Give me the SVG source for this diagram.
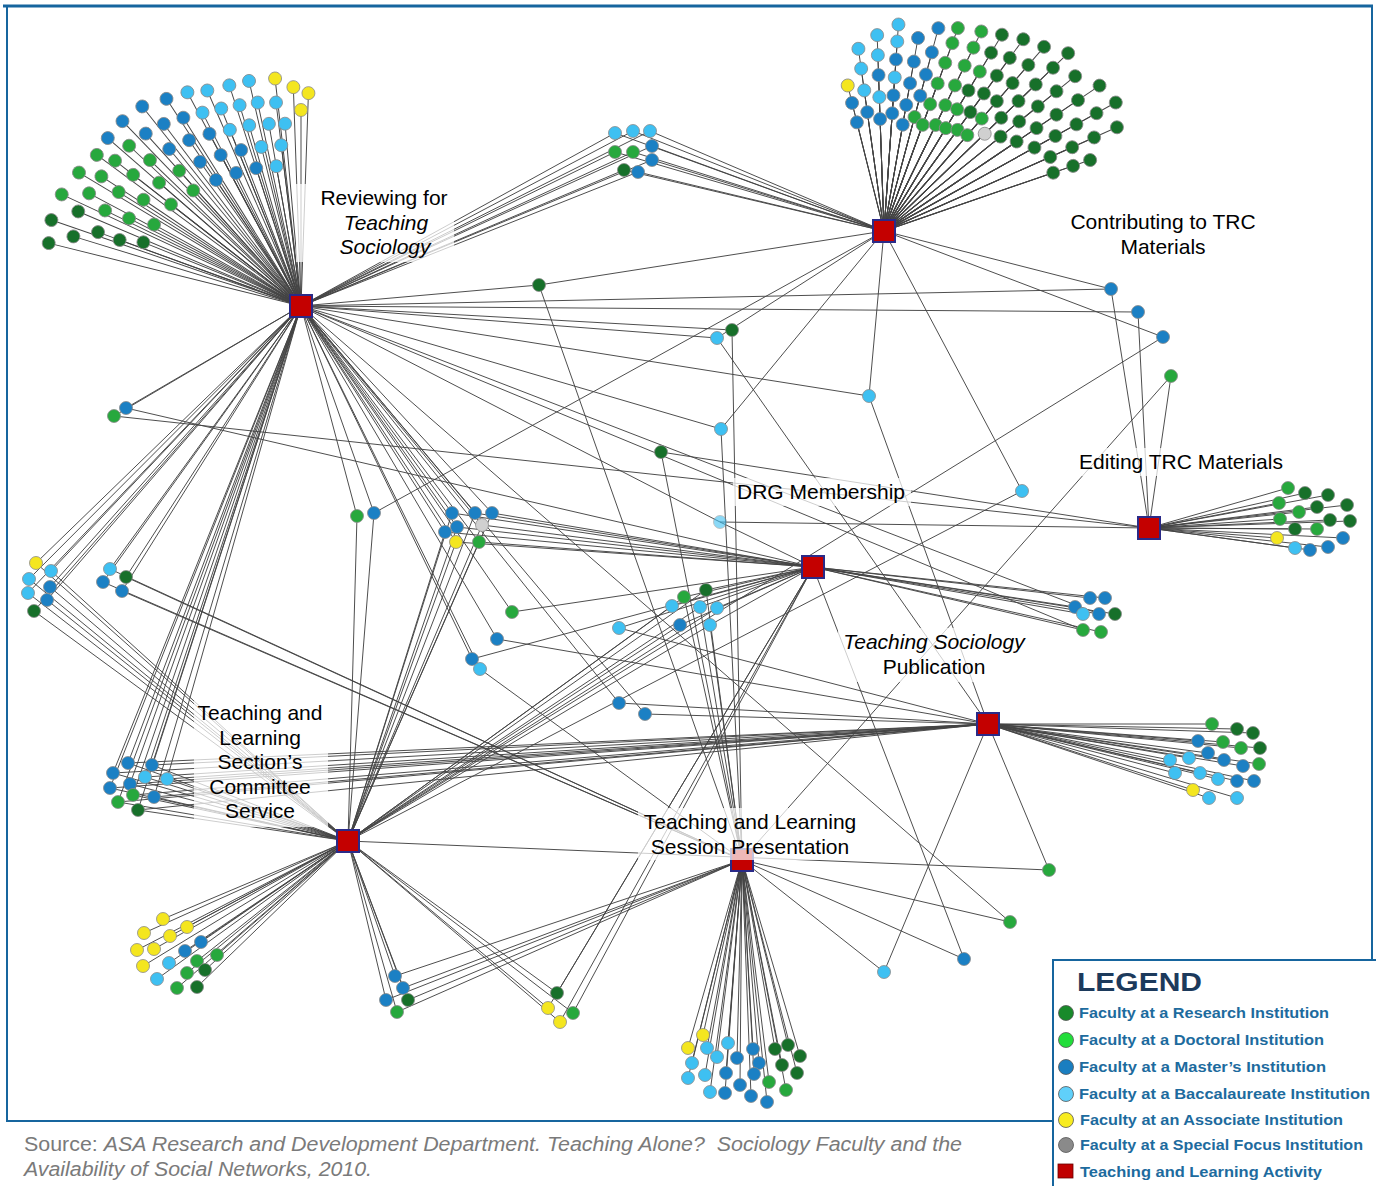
<svg xmlns="http://www.w3.org/2000/svg" width="1376" height="1186" viewBox="0 0 1376 1186">
<style>
.n{stroke:#8a8a8a;stroke-width:0.8}
.dg{fill:#17702a}.g{fill:#27a83d}.b{fill:#1b80c4}.lb{fill:#3ec0f2}.y{fill:#f4e61f}.s{fill:#d0d0d0}
.hub{fill:#c40000;stroke:#2a2a88;stroke-width:2}
.lbl{font-family:"Liberation Sans",Arial,sans-serif;font-size:21px;fill:#000;text-anchor:middle}
.it{font-style:italic}
.lbg{fill:#fff;opacity:0.72}
.lg{font-family:"Liberation Sans",Arial,sans-serif;font-size:15px;font-weight:bold;fill:#1d6b9e}
.lc{stroke:#555;stroke-width:0.8}
</style>
<rect width="1376" height="1186" fill="#fff"/>
<g id="frame" fill="none" stroke="#16659e">
<rect x="7" y="6" width="1365" height="1115" stroke-width="2"/>
<line x1="3" y1="6" x2="1373" y2="6" stroke-width="3"/>
</g>
<g id="connectors" stroke="#444" stroke-width="0.95" fill="none">
<g transform="translate(301,306)">
<line x2="213" transform="rotate(-88)"/><line x2="219" transform="rotate(-92)"/><line x2="229" transform="rotate(-96.5)"/><line x2="231" transform="rotate(-103)"/><line x2="232" transform="rotate(-108)"/><line x2="235" transform="rotate(-113.5)"/><line x2="242" transform="rotate(-118)"/><line x2="247" transform="rotate(-123)"/><line x2="255" transform="rotate(-128.5)"/><line x2="257" transform="rotate(-134)"/><line x2="256" transform="rotate(-139)"/><line x2="254" transform="rotate(-143.5)"/><line x2="259" transform="rotate(-149)"/><line x2="264" transform="rotate(-155)"/><line x2="264" transform="rotate(-161)"/><line x2="260" transform="rotate(-166)"/>
<line x2="196" transform="rotate(-90)"/><line x2="205" transform="rotate(-97)"/><line x2="208" transform="rotate(-102)"/><line x2="210" transform="rotate(-107)"/><line x2="213" transform="rotate(-112)"/><line x2="217" transform="rotate(-117)"/><line x2="222" transform="rotate(-122)"/><line x2="228" transform="rotate(-127)"/><line x2="232" transform="rotate(-132)"/><line x2="235" transform="rotate(-137)"/><line x2="236" transform="rotate(-142)"/><line x2="238" transform="rotate(-147)"/><line x2="240" transform="rotate(-152)"/><line x2="242" transform="rotate(-157)"/><line x2="238" transform="rotate(-163)"/>
<line x2="183" transform="rotate(-95)"/><line x2="185" transform="rotate(-100)"/><line x2="188" transform="rotate(-106)"/><line x2="190" transform="rotate(-112)"/><line x2="195" transform="rotate(-118)"/><line x2="200" transform="rotate(-124)"/><line x2="205" transform="rotate(-130)"/><line x2="210" transform="rotate(-136)"/><line x2="213" transform="rotate(-142)"/><line x2="215" transform="rotate(-148)"/><line x2="218" transform="rotate(-154)"/><line x2="216" transform="rotate(-160)"/>
<line x2="162" transform="rotate(-97)"/><line x2="164" transform="rotate(-104)"/><line x2="167" transform="rotate(-111)"/><line x2="171" transform="rotate(-118)"/><line x2="176" transform="rotate(-125)"/><line x2="182" transform="rotate(-132)"/><line x2="188" transform="rotate(-139)"/><line x2="190" transform="rotate(-146)"/><line x2="193" transform="rotate(-153)"/><line x2="193" transform="rotate(-160)"/>
<line x2="142" transform="rotate(-100)"/><line x2="145" transform="rotate(-108)"/><line x2="148" transform="rotate(-116)"/><line x2="152" transform="rotate(-124)"/><line x2="158" transform="rotate(-133)"/><line x2="165" transform="rotate(-142)"/><line x2="168" transform="rotate(-151)"/><line x2="170" transform="rotate(-158)"/>
</g>
<g transform="translate(884,231)">
<line x2="112" transform="rotate(-104)"/><line x2="132" transform="rotate(-104)"/><line x2="150" transform="rotate(-104)"/>
<line x2="120" transform="rotate(-98)"/><line x2="142" transform="rotate(-98)"/><line x2="164" transform="rotate(-98)"/><line x2="184" transform="rotate(-98)"/>
<line x2="112" transform="rotate(-92)"/><line x2="134" transform="rotate(-92)"/><line x2="156" transform="rotate(-92)"/><line x2="176" transform="rotate(-92)"/><line x2="196" transform="rotate(-92)"/>
<line x2="118" transform="rotate(-86)"/><line x2="136" transform="rotate(-86)"/><line x2="154" transform="rotate(-86)"/><line x2="172" transform="rotate(-86)"/><line x2="190" transform="rotate(-86)"/><line x2="207" transform="rotate(-86)"/>
<line x2="108" transform="rotate(-80)"/><line x2="128" transform="rotate(-80)"/><line x2="150" transform="rotate(-80)"/><line x2="172" transform="rotate(-80)"/><line x2="196" transform="rotate(-80)"/>
<line x2="118" transform="rotate(-75)"/><line x2="140" transform="rotate(-75)"/><line x2="162" transform="rotate(-75)"/><line x2="185" transform="rotate(-75)"/><line x2="210" transform="rotate(-75)"/>
<line x2="113" transform="rotate(-70)"/><line x2="135" transform="rotate(-70)"/><line x2="157" transform="rotate(-70)"/><line x2="179" transform="rotate(-70)"/><line x2="200" transform="rotate(-70)"/><line x2="216" transform="rotate(-70)"/>
<line x2="118" transform="rotate(-64)"/><line x2="140" transform="rotate(-64)"/><line x2="162" transform="rotate(-64)"/><line x2="184" transform="rotate(-64)"/><line x2="204" transform="rotate(-64)"/><line x2="222" transform="rotate(-64)"/>
<line x2="120" transform="rotate(-59)"/><line x2="142" transform="rotate(-59)"/><line x2="164" transform="rotate(-59)"/><line x2="186" transform="rotate(-59)"/><line x2="208" transform="rotate(-59)"/><line x2="229" transform="rotate(-59)"/>
<line x2="125" transform="rotate(-54)"/><line x2="147" transform="rotate(-54)"/><line x2="170" transform="rotate(-54)"/><line x2="192" transform="rotate(-54)"/><line x2="214" transform="rotate(-54)"/><line x2="237" transform="rotate(-54)"/>
<line x2="127" transform="rotate(-49)"/><line x2="149" transform="rotate(-49)"/><line x2="172" transform="rotate(-49)"/><line x2="196" transform="rotate(-49)"/><line x2="220" transform="rotate(-49)"/><line x2="244" transform="rotate(-49)"/>
<line x2="140" transform="rotate(-44)"/><line x2="163" transform="rotate(-44)"/><line x2="187" transform="rotate(-44)"/><line x2="211" transform="rotate(-44)"/><line x2="235" transform="rotate(-44)"/><line x2="256" transform="rotate(-44)"/>
<line x2="150" transform="rotate(-39)"/><line x2="174" transform="rotate(-39)"/><line x2="198" transform="rotate(-39)"/><line x2="222" transform="rotate(-39)"/><line x2="246" transform="rotate(-39)"/>
<line x2="160" transform="rotate(-34)"/><line x2="184" transform="rotate(-34)"/><line x2="208" transform="rotate(-34)"/><line x2="234" transform="rotate(-34)"/><line x2="260" transform="rotate(-34)"/>
<line x2="172" transform="rotate(-29)"/><line x2="196" transform="rotate(-29)"/><line x2="220" transform="rotate(-29)"/><line x2="243" transform="rotate(-29)"/><line x2="265" transform="rotate(-29)"/>
<line x2="182" transform="rotate(-24)"/><line x2="206" transform="rotate(-24)"/><line x2="230" transform="rotate(-24)"/><line x2="255" transform="rotate(-24)"/>
<line x2="179" transform="rotate(-19)"/><line x2="200" transform="rotate(-19)"/><line x2="218" transform="rotate(-19)"/>
</g>
<path d="M1149 528L1288 488M1149 528L1305 493M1149 528L1328 495M1149 528L1279 503M1149 528L1299 512M1149 528L1317 507M1149 528L1347 505M1149 528L1280 519M1149 528L1295 529M1149 528L1317 529M1149 528L1330 520M1149 528L1350 521M1149 528L1277 538M1149 528L1295 548M1149 528L1310 550M1149 528L1328 547M1149 528L1343 538"/>
<path d="M813 567L1075 607M813 567L1090 598M813 567L1105 598M813 567L1083 614M813 567L1099 614M813 567L1115 614M813 567L1083 630M813 567L1101 632"/>
<path d="M988 724L1212 724M988 724L1237 729M988 724L1253 733M988 724L1198 741M988 724L1223 742M988 724L1241 748M988 724L1260 748M988 724L1170 760M988 724L1189 758M988 724L1208 753M988 724L1224 760M988 724L1243 766M988 724L1259 764M988 724L1175 773M988 724L1200 773M988 724L1218 779M988 724L1237 781M988 724L1254 781M988 724L1193 790M988 724L1209 798M988 724L1237 798"/>
<path d="M348 841L163 919M348 841L187 927M348 841L144 933M348 841L170 936M348 841L201 942M348 841L137 950M348 841L154 949M348 841L185 951M348 841L217 955M348 841L197 961M348 841L169 963M348 841L143 966M348 841L205 970M348 841L187 973M348 841L157 979M348 841L177 988M348 841L197 987"/>
<path d="M742 860L703 1035M742 860L688 1048M742 860L707 1048M742 860L728 1043M742 860L717 1057M742 860L692 1063M742 860L737 1058M742 860L753 1049M742 860L759 1063M742 860L775 1049M742 860L788 1045M742 860L800 1056M742 860L782 1065M742 860L797 1073M742 860L688 1078M742 860L705 1075M742 860L726 1073M742 860L754 1074M742 860L769 1082M742 860L740 1085M742 860L710 1092M742 860L725 1093M742 860L751 1096M742 860L786 1090M742 860L767 1102"/>
<path d="M36 563L301 306M51 571L301 306M29 579L301 306M50 587L301 306M28 593L301 306M47 600L301 306M34 611L301 306M36 563L348 841M51 571L348 841M29 579L348 841M50 587L348 841M28 593L348 841M47 600L348 841M34 611L348 841"/>
<path d="M110 569L301 306M126 577L301 306M103 582L301 306M122 591L301 306M110 569L742 860M126 577L742 860M103 582L742 860M122 591L742 860"/>
<path d="M128 763L301 306M152 765L301 306M113 773L301 306M145 777L301 306M167 779L301 306M130 784L301 306M110 788L301 306M133 795L301 306M154 797L301 306M118 802L301 306M138 810L301 306M128 763L988 724M152 765L988 724M113 773L988 724M145 777L988 724M167 779L988 724M130 784L988 724M110 788L988 724M133 795L988 724M154 797L988 724M118 802L988 724M138 810L988 724M128 763L348 841M152 765L348 841M113 773L348 841M145 777L348 841M167 779L348 841M130 784L348 841M110 788L348 841M133 795L348 841M154 797L348 841M118 802L348 841M138 810L348 841"/>
<path d="M452 513L301 306M475 513L301 306M492 513L301 306M457 527L301 306M445 532L301 306M482 525L301 306M456 542L301 306M479 542L301 306M452 513L813 567M475 513L813 567M492 513L813 567M457 527L813 567M445 532L813 567M482 525L813 567M456 542L813 567M479 542L813 567M452 513L348 841M475 513L348 841M492 513L348 841M457 527L348 841M445 532L348 841M482 525L348 841M456 542L348 841M479 542L348 841"/>
<path d="M615 133L301 306M633 131L301 306M650 131L301 306M615 152L301 306M633 152L301 306M652 146L301 306M652 160L301 306M624 170L301 306M638 172L301 306M615 133L884 231M633 131L884 231M650 131L884 231M615 152L884 231M633 152L884 231M652 146L884 231M652 160L884 231M624 170L884 231M638 172L884 231"/>
<path d="M706 590L813 567M684 597L813 567M672 606L813 567M700 607L813 567M717 608L813 567M680 625L813 567M710 625L813 567M706 590L348 841M684 597L348 841M672 606L348 841M700 607L348 841M717 608L348 841M680 625L348 841M710 625L348 841M706 590L742 860M684 597L742 860M700 607L742 860M710 625L742 860"/>
<path d="M395 976L348 841M403 988L348 841M386 1000L348 841M408 1000L348 841M397 1012L348 841M395 976L742 860M403 988L742 860M386 1000L742 860M408 1000L742 860M397 1012L742 860"/>
<path d="M557 993L348 841M548 1008L348 841M573 1013L348 841M560 1022L348 841M557 993L813 567M548 1008L813 567M573 1013L813 567M560 1022L813 567"/>
<path d="M539 285L301 306M539 285L884 231M539 285L742 860M1111 289L301 306M1111 289L884 231M1111 289L1149 528M1138 312L301 306M1138 312L1149 528M1163 337L884 231M1163 337L348 841M1171 376L1149 528M1171 376L742 860M717 338L301 306M717 338L988 724M717 338L884 231M732 330L301 306M732 330L742 860M869 396L301 306M869 396L884 231M869 396L988 724M126 408L301 306M126 408L813 567M114 416L301 306M114 416L1149 528M721 429L884 231M721 429L742 860M721 429L301 306M661 452L1149 528M661 452L742 860M1022 491L884 231M1022 491L348 841M357 516L301 306M357 516L348 841M374 513L301 306M374 513L884 231M374 513L348 841M720 522L813 567M720 522L1149 528M720 522L301 306M512 612L813 567M512 612L301 306M619 628L813 567M619 628L988 724M497 639L301 306M497 639L988 724M472 659L301 306M472 659L813 567M480 669L301 306M480 669L742 860M619 703L988 724M619 703L301 306M645 714L988 724M645 714L301 306M1049 870L348 841M1049 870L988 724M1010 922L742 860M1010 922L301 306M884 972L988 724M884 972L742 860M964 959L813 567M964 959L742 860M1099 614L301 306M1083 630L301 306"/>
</g>
<g id="fan-reviewing" transform="translate(301,306)">
<circle cx="213" r="6.5" class="n y" transform="rotate(-88)"/><circle cx="219" r="6.5" class="n y" transform="rotate(-92)"/><circle cx="229" r="6.5" class="n y" transform="rotate(-96.5)"/><circle cx="231" r="6.5" class="n lb" transform="rotate(-103)"/><circle cx="232" r="6.5" class="n lb" transform="rotate(-108)"/><circle cx="235" r="6.5" class="n lb" transform="rotate(-113.5)"/><circle cx="242" r="6.5" class="n lb" transform="rotate(-118)"/><circle cx="247" r="6.5" class="n b" transform="rotate(-123)"/><circle cx="255" r="6.5" class="n b" transform="rotate(-128.5)"/><circle cx="257" r="6.5" class="n b" transform="rotate(-134)"/><circle cx="256" r="6.5" class="n b" transform="rotate(-139)"/><circle cx="254" r="6.5" class="n g" transform="rotate(-143.5)"/><circle cx="259" r="6.5" class="n g" transform="rotate(-149)"/><circle cx="264" r="6.5" class="n g" transform="rotate(-155)"/><circle cx="264" r="6.5" class="n dg" transform="rotate(-161)"/><circle cx="260" r="6.5" class="n dg" transform="rotate(-166)"/>
<circle cx="196" r="6.5" class="n y" transform="rotate(-90)"/><circle cx="205" r="6.5" class="n lb" transform="rotate(-97)"/><circle cx="208" r="6.5" class="n lb" transform="rotate(-102)"/><circle cx="210" r="6.5" class="n lb" transform="rotate(-107)"/><circle cx="213" r="6.5" class="n lb" transform="rotate(-112)"/><circle cx="217" r="6.5" class="n lb" transform="rotate(-117)"/><circle cx="222" r="6.5" class="n b" transform="rotate(-122)"/><circle cx="228" r="6.5" class="n b" transform="rotate(-127)"/><circle cx="232" r="6.5" class="n b" transform="rotate(-132)"/><circle cx="235" r="6.5" class="n g" transform="rotate(-137)"/><circle cx="236" r="6.5" class="n g" transform="rotate(-142)"/><circle cx="238" r="6.5" class="n g" transform="rotate(-147)"/><circle cx="240" r="6.5" class="n g" transform="rotate(-152)"/><circle cx="242" r="6.5" class="n dg" transform="rotate(-157)"/><circle cx="238" r="6.5" class="n dg" transform="rotate(-163)"/>
<circle cx="183" r="6.5" class="n lb" transform="rotate(-95)"/><circle cx="185" r="6.5" class="n lb" transform="rotate(-100)"/><circle cx="188" r="6.5" class="n lb" transform="rotate(-106)"/><circle cx="190" r="6.5" class="n lb" transform="rotate(-112)"/><circle cx="195" r="6.5" class="n b" transform="rotate(-118)"/><circle cx="200" r="6.5" class="n b" transform="rotate(-124)"/><circle cx="205" r="6.5" class="n b" transform="rotate(-130)"/><circle cx="210" r="6.5" class="n g" transform="rotate(-136)"/><circle cx="213" r="6.5" class="n g" transform="rotate(-142)"/><circle cx="215" r="6.5" class="n g" transform="rotate(-148)"/><circle cx="218" r="6.5" class="n g" transform="rotate(-154)"/><circle cx="216" r="6.5" class="n dg" transform="rotate(-160)"/>
<circle cx="162" r="6.5" class="n lb" transform="rotate(-97)"/><circle cx="164" r="6.5" class="n lb" transform="rotate(-104)"/><circle cx="167" r="6.5" class="n b" transform="rotate(-111)"/><circle cx="171" r="6.5" class="n b" transform="rotate(-118)"/><circle cx="176" r="6.5" class="n b" transform="rotate(-125)"/><circle cx="182" r="6.5" class="n g" transform="rotate(-132)"/><circle cx="188" r="6.5" class="n g" transform="rotate(-139)"/><circle cx="190" r="6.5" class="n g" transform="rotate(-146)"/><circle cx="193" r="6.5" class="n g" transform="rotate(-153)"/><circle cx="193" r="6.5" class="n dg" transform="rotate(-160)"/>
<circle cx="142" r="6.5" class="n lb" transform="rotate(-100)"/><circle cx="145" r="6.5" class="n b" transform="rotate(-108)"/><circle cx="148" r="6.5" class="n b" transform="rotate(-116)"/><circle cx="152" r="6.5" class="n b" transform="rotate(-124)"/><circle cx="158" r="6.5" class="n g" transform="rotate(-133)"/><circle cx="165" r="6.5" class="n g" transform="rotate(-142)"/><circle cx="168" r="6.5" class="n g" transform="rotate(-151)"/><circle cx="170" r="6.5" class="n dg" transform="rotate(-158)"/>
</g>
<g id="fan-contributing" transform="translate(884,231)">
<circle cx="112" r="6.5" class="n b" transform="rotate(-104)"/><circle cx="132" r="6.5" class="n b" transform="rotate(-104)"/><circle cx="150" r="6.5" class="n y" transform="rotate(-104)"/>
<circle cx="120" r="6.5" class="n b" transform="rotate(-98)"/><circle cx="142" r="6.5" class="n lb" transform="rotate(-98)"/><circle cx="164" r="6.5" class="n lb" transform="rotate(-98)"/><circle cx="184" r="6.5" class="n lb" transform="rotate(-98)"/>
<circle cx="112" r="6.5" class="n b" transform="rotate(-92)"/><circle cx="134" r="6.5" class="n lb" transform="rotate(-92)"/><circle cx="156" r="6.5" class="n b" transform="rotate(-92)"/><circle cx="176" r="6.5" class="n lb" transform="rotate(-92)"/><circle cx="196" r="6.5" class="n lb" transform="rotate(-92)"/>
<circle cx="118" r="6.5" class="n b" transform="rotate(-86)"/><circle cx="136" r="6.5" class="n b" transform="rotate(-86)"/><circle cx="154" r="6.5" class="n lb" transform="rotate(-86)"/><circle cx="172" r="6.5" class="n b" transform="rotate(-86)"/><circle cx="190" r="6.5" class="n lb" transform="rotate(-86)"/><circle cx="207" r="6.5" class="n lb" transform="rotate(-86)"/>
<circle cx="108" r="6.5" class="n b" transform="rotate(-80)"/><circle cx="128" r="6.5" class="n b" transform="rotate(-80)"/><circle cx="150" r="6.5" class="n b" transform="rotate(-80)"/><circle cx="172" r="6.5" class="n b" transform="rotate(-80)"/><circle cx="196" r="6.5" class="n b" transform="rotate(-80)"/>
<circle cx="118" r="6.5" class="n g" transform="rotate(-75)"/><circle cx="140" r="6.5" class="n b" transform="rotate(-75)"/><circle cx="162" r="6.5" class="n b" transform="rotate(-75)"/><circle cx="185" r="6.5" class="n b" transform="rotate(-75)"/><circle cx="210" r="6.5" class="n b" transform="rotate(-75)"/>
<circle cx="113" r="6.5" class="n g" transform="rotate(-70)"/><circle cx="135" r="6.5" class="n g" transform="rotate(-70)"/><circle cx="157" r="6.5" class="n g" transform="rotate(-70)"/><circle cx="179" r="6.5" class="n g" transform="rotate(-70)"/><circle cx="200" r="6.5" class="n g" transform="rotate(-70)"/><circle cx="216" r="6.5" class="n g" transform="rotate(-70)"/>
<circle cx="118" r="6.5" class="n g" transform="rotate(-64)"/><circle cx="140" r="6.5" class="n g" transform="rotate(-64)"/><circle cx="162" r="6.5" class="n g" transform="rotate(-64)"/><circle cx="184" r="6.5" class="n g" transform="rotate(-64)"/><circle cx="204" r="6.5" class="n g" transform="rotate(-64)"/><circle cx="222" r="6.5" class="n g" transform="rotate(-64)"/>
<circle cx="120" r="6.5" class="n g" transform="rotate(-59)"/><circle cx="142" r="6.5" class="n g" transform="rotate(-59)"/><circle cx="164" r="6.5" class="n dg" transform="rotate(-59)"/><circle cx="186" r="6.5" class="n g" transform="rotate(-59)"/><circle cx="208" r="6.5" class="n dg" transform="rotate(-59)"/><circle cx="229" r="6.5" class="n dg" transform="rotate(-59)"/>
<circle cx="125" r="6.5" class="n g" transform="rotate(-54)"/><circle cx="147" r="6.5" class="n dg" transform="rotate(-54)"/><circle cx="170" r="6.5" class="n dg" transform="rotate(-54)"/><circle cx="192" r="6.5" class="n dg" transform="rotate(-54)"/><circle cx="214" r="6.5" class="n dg" transform="rotate(-54)"/><circle cx="237" r="6.5" class="n dg" transform="rotate(-54)"/>
<circle cx="127" r="6.5" class="n g" transform="rotate(-49)"/><circle cx="149" r="6.5" class="n g" transform="rotate(-49)"/><circle cx="172" r="6.5" class="n dg" transform="rotate(-49)"/><circle cx="196" r="6.5" class="n dg" transform="rotate(-49)"/><circle cx="220" r="6.5" class="n dg" transform="rotate(-49)"/><circle cx="244" r="6.5" class="n dg" transform="rotate(-49)"/>
<circle cx="140" r="6.5" class="n s" transform="rotate(-44)"/><circle cx="163" r="6.5" class="n dg" transform="rotate(-44)"/><circle cx="187" r="6.5" class="n dg" transform="rotate(-44)"/><circle cx="211" r="6.5" class="n dg" transform="rotate(-44)"/><circle cx="235" r="6.5" class="n dg" transform="rotate(-44)"/><circle cx="256" r="6.5" class="n dg" transform="rotate(-44)"/>
<circle cx="150" r="6.5" class="n dg" transform="rotate(-39)"/><circle cx="174" r="6.5" class="n dg" transform="rotate(-39)"/><circle cx="198" r="6.5" class="n dg" transform="rotate(-39)"/><circle cx="222" r="6.5" class="n dg" transform="rotate(-39)"/><circle cx="246" r="6.5" class="n dg" transform="rotate(-39)"/>
<circle cx="160" r="6.5" class="n dg" transform="rotate(-34)"/><circle cx="184" r="6.5" class="n dg" transform="rotate(-34)"/><circle cx="208" r="6.5" class="n dg" transform="rotate(-34)"/><circle cx="234" r="6.5" class="n dg" transform="rotate(-34)"/><circle cx="260" r="6.5" class="n dg" transform="rotate(-34)"/>
<circle cx="172" r="6.5" class="n dg" transform="rotate(-29)"/><circle cx="196" r="6.5" class="n dg" transform="rotate(-29)"/><circle cx="220" r="6.5" class="n dg" transform="rotate(-29)"/><circle cx="243" r="6.5" class="n dg" transform="rotate(-29)"/><circle cx="265" r="6.5" class="n dg" transform="rotate(-29)"/>
<circle cx="182" r="6.5" class="n dg" transform="rotate(-24)"/><circle cx="206" r="6.5" class="n dg" transform="rotate(-24)"/><circle cx="230" r="6.5" class="n dg" transform="rotate(-24)"/><circle cx="255" r="6.5" class="n dg" transform="rotate(-24)"/>
<circle cx="179" r="6.5" class="n dg" transform="rotate(-19)"/><circle cx="200" r="6.5" class="n dg" transform="rotate(-19)"/><circle cx="218" r="6.5" class="n dg" transform="rotate(-19)"/>
</g>
<g id="fan-editing">
<circle cx="1288" cy="488" r="6.5" class="n g"/><circle cx="1305" cy="493" r="6.5" class="n dg"/><circle cx="1328" cy="495" r="6.5" class="n dg"/><circle cx="1279" cy="503" r="6.5" class="n g"/><circle cx="1299" cy="512" r="6.5" class="n g"/><circle cx="1317" cy="507" r="6.5" class="n dg"/><circle cx="1347" cy="505" r="6.5" class="n dg"/><circle cx="1280" cy="519" r="6.5" class="n g"/><circle cx="1295" cy="529" r="6.5" class="n dg"/><circle cx="1317" cy="529" r="6.5" class="n g"/><circle cx="1330" cy="520" r="6.5" class="n dg"/><circle cx="1350" cy="521" r="6.5" class="n dg"/><circle cx="1277" cy="538" r="6.5" class="n y"/><circle cx="1295" cy="548" r="6.5" class="n lb"/><circle cx="1310" cy="550" r="6.5" class="n b"/><circle cx="1328" cy="547" r="6.5" class="n b"/><circle cx="1343" cy="538" r="6.5" class="n b"/>
</g>
<g id="fan-drg">
<circle cx="1075" cy="607" r="6.5" class="n b"/><circle cx="1090" cy="598" r="6.5" class="n b"/><circle cx="1105" cy="598" r="6.5" class="n b"/><circle cx="1083" cy="614" r="6.5" class="n lb"/><circle cx="1099" cy="614" r="6.5" class="n b"/><circle cx="1115" cy="614" r="6.5" class="n dg"/><circle cx="1083" cy="630" r="6.5" class="n g"/><circle cx="1101" cy="632" r="6.5" class="n g"/>
</g>
<g id="fan-publication">
<circle cx="1212" cy="724" r="6.5" class="n g"/><circle cx="1237" cy="729" r="6.5" class="n dg"/><circle cx="1253" cy="733" r="6.5" class="n dg"/><circle cx="1198" cy="741" r="6.5" class="n b"/><circle cx="1223" cy="742" r="6.5" class="n g"/><circle cx="1241" cy="748" r="6.5" class="n g"/><circle cx="1260" cy="748" r="6.5" class="n dg"/><circle cx="1170" cy="760" r="6.5" class="n lb"/><circle cx="1189" cy="758" r="6.5" class="n lb"/><circle cx="1208" cy="753" r="6.5" class="n b"/><circle cx="1224" cy="760" r="6.5" class="n b"/><circle cx="1243" cy="766" r="6.5" class="n b"/><circle cx="1259" cy="764" r="6.5" class="n g"/><circle cx="1175" cy="773" r="6.5" class="n lb"/><circle cx="1200" cy="773" r="6.5" class="n lb"/><circle cx="1218" cy="779" r="6.5" class="n lb"/><circle cx="1237" cy="781" r="6.5" class="n b"/><circle cx="1254" cy="781" r="6.5" class="n b"/><circle cx="1193" cy="790" r="6.5" class="n y"/><circle cx="1209" cy="798" r="6.5" class="n lb"/><circle cx="1237" cy="798" r="6.5" class="n lb"/>
</g>
<g id="fan-committee">
<circle cx="163" cy="919" r="6.5" class="n y"/><circle cx="187" cy="927" r="6.5" class="n y"/><circle cx="144" cy="933" r="6.5" class="n y"/><circle cx="170" cy="936" r="6.5" class="n y"/><circle cx="201" cy="942" r="6.5" class="n b"/><circle cx="137" cy="950" r="6.5" class="n y"/><circle cx="154" cy="949" r="6.5" class="n y"/><circle cx="185" cy="951" r="6.5" class="n b"/><circle cx="217" cy="955" r="6.5" class="n g"/><circle cx="197" cy="961" r="6.5" class="n g"/><circle cx="169" cy="963" r="6.5" class="n lb"/><circle cx="143" cy="966" r="6.5" class="n y"/><circle cx="205" cy="970" r="6.5" class="n dg"/><circle cx="187" cy="973" r="6.5" class="n g"/><circle cx="157" cy="979" r="6.5" class="n lb"/><circle cx="177" cy="988" r="6.5" class="n g"/><circle cx="197" cy="987" r="6.5" class="n dg"/>
</g>
<g id="fan-session">
<circle cx="703" cy="1035" r="6.5" class="n y"/><circle cx="688" cy="1048" r="6.5" class="n y"/><circle cx="707" cy="1048" r="6.5" class="n lb"/><circle cx="728" cy="1043" r="6.5" class="n lb"/><circle cx="717" cy="1057" r="6.5" class="n lb"/><circle cx="692" cy="1063" r="6.5" class="n lb"/><circle cx="737" cy="1058" r="6.5" class="n b"/><circle cx="753" cy="1049" r="6.5" class="n b"/><circle cx="759" cy="1063" r="6.5" class="n b"/><circle cx="775" cy="1049" r="6.5" class="n dg"/><circle cx="788" cy="1045" r="6.5" class="n dg"/><circle cx="800" cy="1056" r="6.5" class="n dg"/><circle cx="782" cy="1065" r="6.5" class="n dg"/><circle cx="797" cy="1073" r="6.5" class="n dg"/><circle cx="688" cy="1078" r="6.5" class="n lb"/><circle cx="705" cy="1075" r="6.5" class="n lb"/><circle cx="726" cy="1073" r="6.5" class="n b"/><circle cx="754" cy="1074" r="6.5" class="n b"/><circle cx="769" cy="1082" r="6.5" class="n g"/><circle cx="740" cy="1085" r="6.5" class="n b"/><circle cx="710" cy="1092" r="6.5" class="n lb"/><circle cx="725" cy="1093" r="6.5" class="n b"/><circle cx="751" cy="1096" r="6.5" class="n b"/><circle cx="786" cy="1090" r="6.5" class="n g"/><circle cx="767" cy="1102" r="6.5" class="n b"/>
</g>
<g id="group-left-a">
<circle cx="36" cy="563" r="6.5" class="n y"/><circle cx="51" cy="571" r="6.5" class="n lb"/><circle cx="29" cy="579" r="6.5" class="n lb"/><circle cx="50" cy="587" r="6.5" class="n b"/><circle cx="28" cy="593" r="6.5" class="n lb"/><circle cx="47" cy="600" r="6.5" class="n b"/><circle cx="34" cy="611" r="6.5" class="n dg"/>
</g>
<g id="group-left-b">
<circle cx="110" cy="569" r="6.5" class="n lb"/><circle cx="126" cy="577" r="6.5" class="n dg"/><circle cx="103" cy="582" r="6.5" class="n b"/><circle cx="122" cy="591" r="6.5" class="n b"/>
</g>
<g id="group-left-c">
<circle cx="128" cy="763" r="6.5" class="n b"/><circle cx="152" cy="765" r="6.5" class="n b"/><circle cx="113" cy="773" r="6.5" class="n b"/><circle cx="145" cy="777" r="6.5" class="n lb"/><circle cx="167" cy="779" r="6.5" class="n lb"/><circle cx="130" cy="784" r="6.5" class="n b"/><circle cx="110" cy="788" r="6.5" class="n b"/><circle cx="133" cy="795" r="6.5" class="n g"/><circle cx="154" cy="797" r="6.5" class="n b"/><circle cx="118" cy="802" r="6.5" class="n g"/><circle cx="138" cy="810" r="6.5" class="n dg"/>
</g>
<g id="group-mid-a">
<circle cx="452" cy="513" r="6.5" class="n b"/><circle cx="475" cy="513" r="6.5" class="n b"/><circle cx="492" cy="513" r="6.5" class="n b"/><circle cx="457" cy="527" r="6.5" class="n b"/><circle cx="445" cy="532" r="6.5" class="n b"/><circle cx="482" cy="525" r="6.5" class="n s"/><circle cx="456" cy="542" r="6.5" class="n y"/><circle cx="479" cy="542" r="6.5" class="n g"/>
</g>
<g id="group-top">
<circle cx="615" cy="133" r="6.5" class="n lb"/><circle cx="633" cy="131" r="6.5" class="n lb"/><circle cx="650" cy="131" r="6.5" class="n lb"/><circle cx="615" cy="152" r="6.5" class="n g"/><circle cx="633" cy="152" r="6.5" class="n g"/><circle cx="652" cy="146" r="6.5" class="n b"/><circle cx="652" cy="160" r="6.5" class="n b"/><circle cx="624" cy="170" r="6.5" class="n dg"/><circle cx="638" cy="172" r="6.5" class="n b"/>
</g>
<g id="group-mid-b">
<circle cx="706" cy="590" r="6.5" class="n dg"/><circle cx="684" cy="597" r="6.5" class="n g"/><circle cx="672" cy="606" r="6.5" class="n lb"/><circle cx="700" cy="607" r="6.5" class="n lb"/><circle cx="717" cy="608" r="6.5" class="n lb"/><circle cx="680" cy="625" r="6.5" class="n b"/><circle cx="710" cy="625" r="6.5" class="n lb"/>
</g>
<g id="group-bottom-a">
<circle cx="395" cy="976" r="6.5" class="n b"/><circle cx="403" cy="988" r="6.5" class="n b"/><circle cx="386" cy="1000" r="6.5" class="n b"/><circle cx="408" cy="1000" r="6.5" class="n dg"/><circle cx="397" cy="1012" r="6.5" class="n g"/>
</g>
<g id="group-bottom-b">
<circle cx="557" cy="993" r="6.5" class="n dg"/><circle cx="548" cy="1008" r="6.5" class="n y"/><circle cx="573" cy="1013" r="6.5" class="n g"/><circle cx="560" cy="1022" r="6.5" class="n y"/>
</g>
<g id="single-nodes">
<circle cx="539" cy="285" r="6.5" class="n dg"/><circle cx="1111" cy="289" r="6.5" class="n b"/><circle cx="1138" cy="312" r="6.5" class="n b"/><circle cx="1163" cy="337" r="6.5" class="n b"/><circle cx="1171" cy="376" r="6.5" class="n g"/><circle cx="717" cy="338" r="6.5" class="n lb"/><circle cx="732" cy="330" r="6.5" class="n dg"/><circle cx="869" cy="396" r="6.5" class="n lb"/><circle cx="126" cy="408" r="6.5" class="n b"/><circle cx="114" cy="416" r="6.5" class="n g"/><circle cx="721" cy="429" r="6.5" class="n lb"/><circle cx="661" cy="452" r="6.5" class="n dg"/><circle cx="1022" cy="491" r="6.5" class="n lb"/><circle cx="357" cy="516" r="6.5" class="n g"/><circle cx="374" cy="513" r="6.5" class="n b"/><circle cx="720" cy="522" r="6.5" class="n lb" opacity="0.6"/><circle cx="512" cy="612" r="6.5" class="n g"/><circle cx="619" cy="628" r="6.5" class="n lb"/><circle cx="497" cy="639" r="6.5" class="n b"/><circle cx="472" cy="659" r="6.5" class="n b"/><circle cx="480" cy="669" r="6.5" class="n lb"/><circle cx="619" cy="703" r="6.5" class="n b"/><circle cx="645" cy="714" r="6.5" class="n b"/><circle cx="1049" cy="870" r="6.5" class="n g"/><circle cx="1010" cy="922" r="6.5" class="n g"/><circle cx="884" cy="972" r="6.5" class="n lb"/><circle cx="964" cy="959" r="6.5" class="n b"/>
</g>
<g id="hub-reviewing"><rect x="290" y="295" width="22" height="22" class="hub"/></g>
<g id="hub-contributing"><rect x="873" y="220" width="22" height="22" class="hub"/></g>
<g id="hub-editing"><rect x="1138" y="517" width="22" height="22" class="hub"/></g>
<g id="hub-drg"><rect x="802" y="556" width="22" height="22" class="hub"/></g>
<g id="hub-publication"><rect x="977" y="713" width="22" height="22" class="hub"/></g>
<g id="hub-committee"><rect x="337" y="830" width="22" height="22" class="hub"/></g>
<g id="hub-session"><rect x="731" y="849" width="22" height="22" class="hub"/></g>
<g id="labels">
<rect x="296" y="184" width="158" height="78" class="lbg"/>
<text class="lbl" x="384" y="205">Reviewing for</text>
<text class="lbl it" x="386" y="230">Teaching</text>
<text class="lbl it" x="385" y="254">Sociology</text>
<rect x="1066" y="206" width="196" height="54" class="lbg"/>
<text class="lbl" x="1163" y="229">Contributing to TRC</text>
<text class="lbl" x="1163" y="254">Materials</text>
<rect x="1074" y="448" width="216" height="28" class="lbg"/>
<text class="lbl" x="1181" y="469">Editing TRC Materials</text>
<rect x="733" y="478" width="178" height="28" class="lbg"/>
<text class="lbl" x="821" y="499">DRG Membership</text>
<rect x="838" y="628" width="194" height="54" class="lbg"/>
<text class="lbl it" x="934" y="649">Teaching Sociology</text>
<text class="lbl" x="934" y="674">Publication</text>
<rect x="194" y="699" width="134" height="128" class="lbg"/>
<text class="lbl" x="260" y="720">Teaching and</text>
<text class="lbl" x="260" y="745">Learning</text>
<text class="lbl" x="260" y="769">Section’s</text>
<text class="lbl" x="260" y="794">Committee</text>
<text class="lbl" x="260" y="818">Service</text>
<rect x="638" y="808" width="224" height="52" class="lbg"/>
<text class="lbl" x="750" y="829">Teaching and Learning</text>
<text class="lbl" x="750" y="854">Session Presentation</text>
</g>
<g id="source" font-family="'Liberation Sans',Arial,sans-serif" font-size="20" fill="#7a7a7a">
<text x="24" y="1151" textLength="938" lengthAdjust="spacingAndGlyphs">Source: <tspan font-style="italic">ASA Research and Development Department. Teaching Alone?&#160; Sociology Faculty and the</tspan></text>
<text x="24" y="1176" font-style="italic" textLength="348" lengthAdjust="spacingAndGlyphs">Availability of Social Networks, 2010.</text>
</g>
<g id="legend">
<rect x="1053" y="960" width="330" height="240" fill="#fff" stroke="#16659e" stroke-width="2"/>
<text x="1077" y="991" font-family="'Liberation Sans',Arial,sans-serif" font-size="25" font-weight="900" fill="#1c3a5c" textLength="125" lengthAdjust="spacingAndGlyphs">LEGEND</text>
<circle cx="1066" cy="1013" r="7.5" fill="#188a2a" class="lc"/>
<text class="lg" x="1079" y="1018" textLength="250" lengthAdjust="spacingAndGlyphs">Faculty at a Research Institution</text>
<circle cx="1066" cy="1040" r="7.5" fill="#22dd3a" class="lc"/>
<text class="lg" x="1079" y="1045" textLength="245" lengthAdjust="spacingAndGlyphs">Faculty at a Doctoral Institution</text>
<circle cx="1066" cy="1067" r="7.5" fill="#1a7ec0" class="lc"/>
<text class="lg" x="1079" y="1072" textLength="247" lengthAdjust="spacingAndGlyphs">Faculty at a Master’s Institution</text>
<circle cx="1066" cy="1094" r="7.5" fill="#60d0fa" class="lc"/>
<text class="lg" x="1079" y="1099" textLength="291" lengthAdjust="spacingAndGlyphs">Faculty at a Baccalaureate Institution</text>
<circle cx="1066" cy="1120" r="7.5" fill="#f8ec20" class="lc"/>
<text class="lg" x="1080" y="1125" textLength="263" lengthAdjust="spacingAndGlyphs">Faculty at an Associate Institution</text>
<circle cx="1066" cy="1145" r="7.5" fill="#8a8a8a" class="lc"/>
<text class="lg" x="1080" y="1150" textLength="283" lengthAdjust="spacingAndGlyphs">Faculty at a Special Focus Institution</text>
<rect x="1058" y="1164" width="15" height="14" fill="#c00000" stroke="#6a0000" stroke-width="0.8"/>
<text class="lg" x="1080" y="1177" textLength="242" lengthAdjust="spacingAndGlyphs">Teaching and Learning Activity</text>
</g>
</svg>
